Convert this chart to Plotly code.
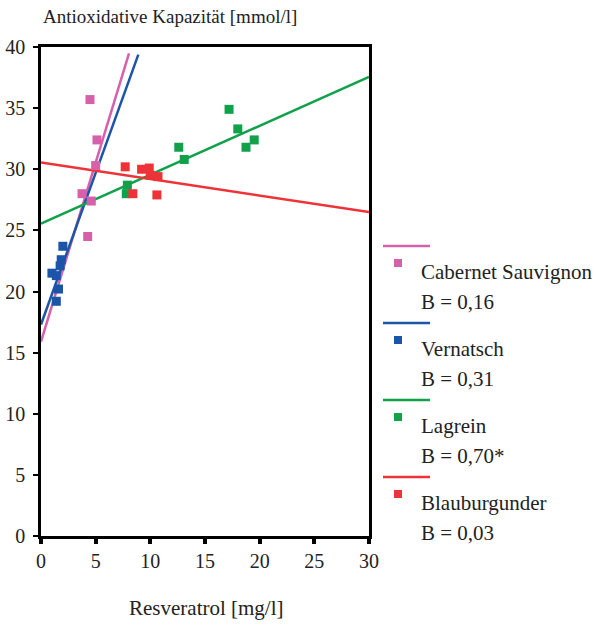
import plotly.graph_objects as go

# Scatter data: resveratrol [mg/l] vs. antioxidative capacity [mmol/l]
cab_x = [4.48, 5.12, 5.0, 3.75, 4.6, 4.27]
cab_y = [35.7, 32.4, 30.3, 28.0, 27.4, 24.5]

ver_x = [2.0, 1.85, 1.75, 1.0, 1.4, 1.6, 1.4]
ver_y = [23.7, 22.6, 22.1, 21.5, 21.3, 20.2, 19.2]

lag_x = [17.2, 18.0, 19.5, 18.75, 12.6, 13.1, 7.9, 7.8]
lag_y = [34.9, 33.3, 32.4, 31.8, 31.8, 30.8, 28.7, 28.0]

bla_x = [7.7, 9.2, 9.9, 10.0, 10.7, 8.4, 10.6]
bla_y = [30.2, 30.0, 30.1, 29.5, 29.4, 28.0, 27.9]

# Regression lines: intercept, slope and x-extent per variety
names = ["Cabernet Sauvignon", "Vernatsch", "Lagrein", "Blauburgunder"]
b_labels = ["B = 0,16", "B = 0,31", "B = 0,70*", "B = 0,03"]
intercepts = [15.9, 17.3, 25.55, 30.55]
slopes = [2.93, 2.48, 0.40, -0.135]
x_end = [8.05, 8.9, 30.0, 30.0]
colors = ["#D660AA", "#1C55A8", "#10A14B", "#EE3338"]

x_ticks = [0, 5, 10, 15, 20, 25, 30]
y_ticks = [0, 5, 10, 15, 20, 25, 30, 35, 40]

FONT = "'Liberation Serif', 'DejaVu Serif', 'Times New Roman', serif"
W, H = 596, 628
L, R, T, B = 41, 369, 47, 536


def px(xp):
    return (xp - L) / (R - L)


def py(yp):
    return (B - yp) / (B - T)


fig = go.Figure()

points = [(cab_x, cab_y), (ver_x, ver_y), (lag_x, lag_y), (bla_x, bla_y)]

for i in range(4):
    xs = [0, x_end[i]]
    ys = [intercepts[i] + slopes[i] * x for x in xs]
    fig.add_trace(go.Scatter(x=xs, y=ys, mode="lines",
                             line=dict(color=colors[i], width=2.5),
                             showlegend=False, hoverinfo="skip"))

for i, (xs, ys) in enumerate(points):
    fig.add_trace(go.Scatter(x=xs, y=ys, mode="markers",
                             marker=dict(symbol="square", size=9, color=colors[i],
                                         line=dict(width=0)),
                             name=names[i], showlegend=False))

# Custom legend on the right: line, marker, name and coefficient
shapes = []
annotations = []
for i in range(4):
    y0 = 246 + 77 * i
    shapes.append(dict(type="line", xref="paper", yref="paper",
                       x0=px(383), x1=px(430), y0=py(y0), y1=py(y0),
                       line=dict(color=colors[i], width=2.5)))
    shapes.append(dict(type="rect", xref="paper", yref="paper",
                       x0=px(394), x1=px(402), y0=py(y0 + 13), y1=py(y0 + 21),
                       fillcolor=colors[i], line=dict(width=0)))
    annotations.append(dict(text=names[i], xref="paper", yref="paper",
                            x=px(419), y=py(y0 + 26), xanchor="left", yanchor="middle",
                            showarrow=False, font=dict(family=FONT, size=21, color="#222")))
    annotations.append(dict(text=b_labels[i], xref="paper", yref="paper",
                            x=px(419), y=py(y0 + 56), xanchor="left", yanchor="middle",
                            showarrow=False, font=dict(family=FONT, size=21, color="#222")))

annotations.append(dict(text="Antioxidative Kapazität [mmol/l]", xref="paper", yref="paper",
                        x=px(41), y=py(17), xanchor="left", yanchor="middle",
                        showarrow=False, font=dict(family=FONT, size=19, color="#222")))
annotations.append(dict(text="Resveratrol [mg/l]", xref="paper", yref="paper",
                        x=px(206), y=py(608), xanchor="center", yanchor="middle",
                        showarrow=False, font=dict(family=FONT, size=21, color="#222")))

fig.update_layout(
    width=W, height=H,
    margin=dict(l=L, r=W - R, t=T, b=H - B, autoexpand=False),
    plot_bgcolor="white", paper_bgcolor="white",
    shapes=shapes, annotations=annotations,
    showlegend=False,
)
fig.update_xaxes(range=[0, 30], tickvals=x_ticks, ticktext=[str(v) for v in x_ticks],
                 showgrid=False, zeroline=False, showline=True, linecolor="black",
                 linewidth=2.5, mirror=True, ticks="outside", ticklen=5, tickwidth=4,
                 tickcolor="black", automargin=False,
                 tickfont=dict(family=FONT, size=20, color="#222"))
fig.update_yaxes(range=[0, 40], tickvals=y_ticks, ticktext=[str(v) for v in y_ticks],
                 showgrid=False, zeroline=False, showline=True, linecolor="black",
                 linewidth=2.5, mirror=True, ticks="outside", ticklen=5, tickwidth=2,
                 tickcolor="black", automargin=False,
                 tickfont=dict(family=FONT, size=20, color="#222"),
                 ticklabelstandoff=4)

fig.write_html("out.html")
